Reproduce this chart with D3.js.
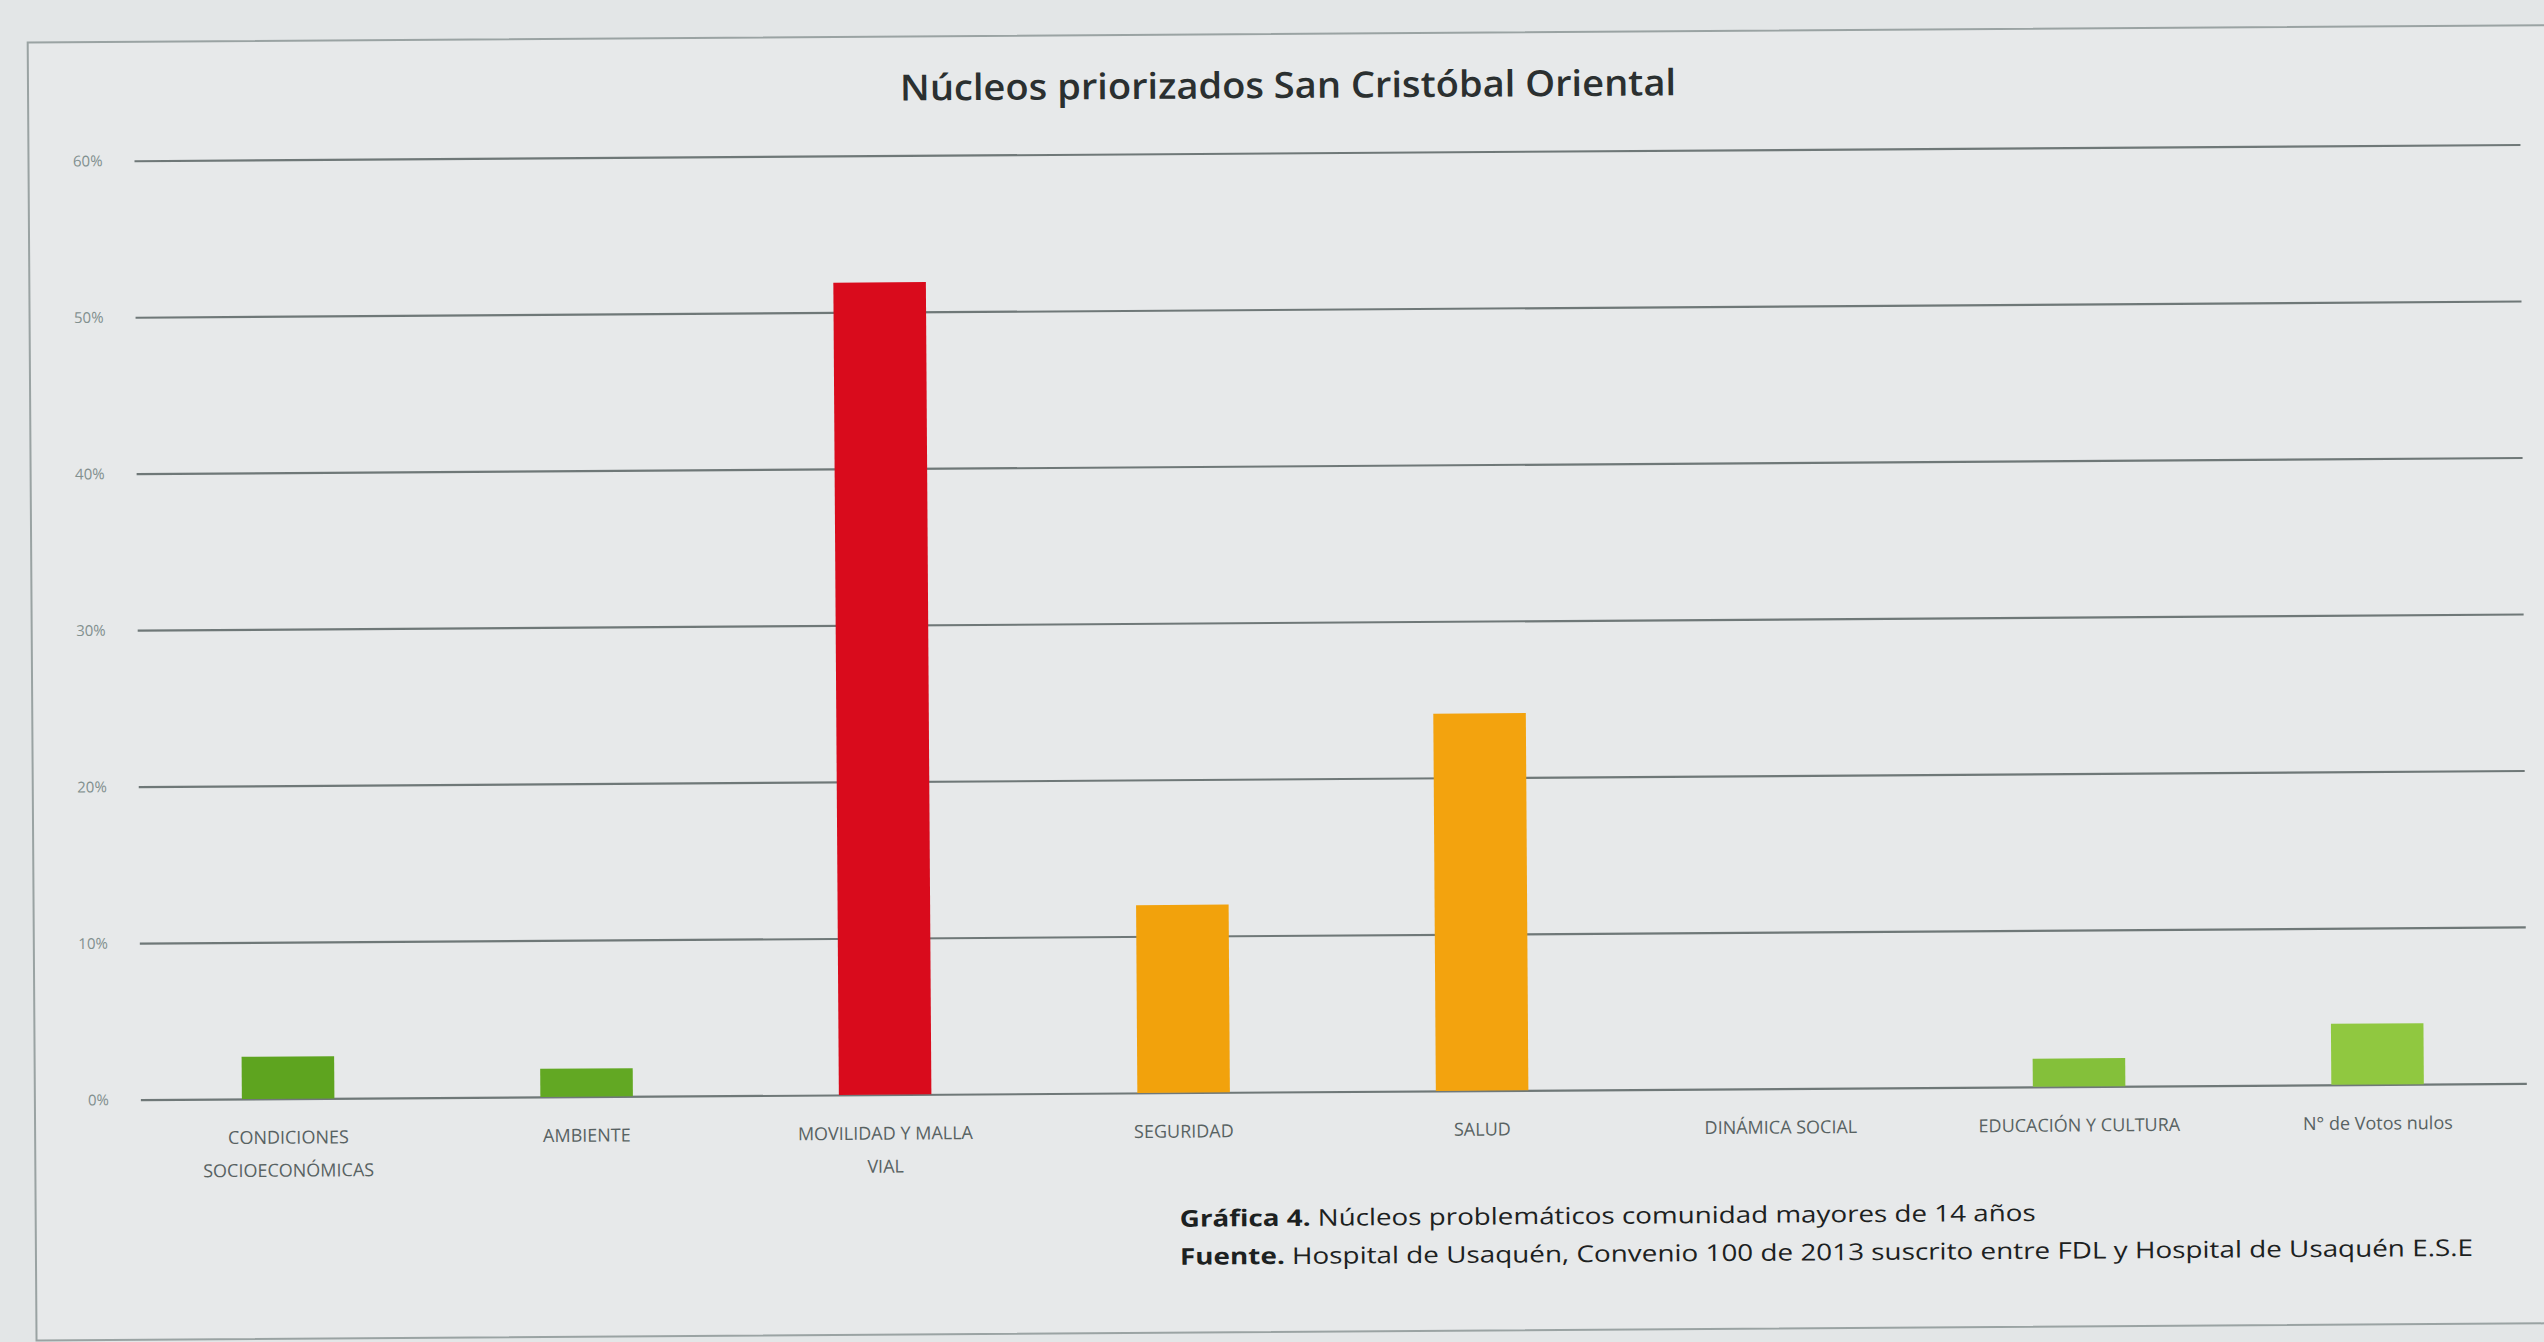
<!DOCTYPE html>
<html>
<head>
<meta charset="utf-8">
<script src="https://cdn.jsdelivr.net/npm/d3@7"></script>
<style>
  html, body { margin: 0; padding: 0; background: #e3e6e7; }
  svg { display: block; }
</style>
</head>
<body>
<div id="chart"></div>
<script>
// Data
const categories = [
    "CONDICIONES\nSOCIOECONÓMICAS",
    "AMBIENTE",
    "MOVILIDAD Y MALLA\nVIAL",
    "SEGURIDAD",
    "SALUD",
    "DINÁMICA SOCIAL",
    "EDUCACIÓN Y CULTURA",
    "N° de Votos nulos"
];
const values = [2.7, 1.8, 51.9, 12.0, 24.1, 0, 1.8, 3.9];
const barColors = ["#5ea41f", "#62a823", "#d90b1c", "#f2a20c", "#f3a30e", "#8cc43c", "#84c03a", "#90c840"];
const yTicks = [0, 10, 20, 30, 40, 50, 60];
const titleText = "Núcleos priorizados San Cristóbal Oriental";
const captionLines = [
    ["Gráfica 4.", " Núcleos problemáticos  comunidad mayores de 14 años"],
    ["Fuente.", " Hospital de Usaquén, Convenio 100 de 2013 suscrito entre FDL y Hospital de Usaquén E.S.E"]
];

function createBarChart() {
    const W = 2544, H = 1342;
    const left = 138, right = 2524, top = 153, bottom = 1092;

    const svg = d3.select("#chart")
        .append("svg")
        .attr("width", W)
        .attr("height", H);

    // the scanned page is a little tilted
    const g = svg.append("g")
        .attr("transform", `rotate(-0.39, ${W / 2}, ${H / 2})`);

    // frame of the figure
    g.append("rect")
        .attr("x", 32)
        .attr("y", 34)
        .attr("width", W + 40)
        .attr("height", 1298)
        .attr("fill", "#e7e9ea")
        .attr("stroke", "#9aa3a3")
        .attr("stroke-width", 2);

    const x = d3.scaleBand()
        .domain(categories)
        .range([left - 2, right])
        .paddingInner(0.69)
        .paddingOuter(0.345);

    const y = d3.scaleLinear()
        .domain([0, 60])
        .range([bottom, top]);

    // gridlines + y labels
    const yAxis = g.append("g")
        .attr("transform", `translate(${left},0)`)
        .call(d3.axisLeft(y)
            .tickValues(yTicks)
            .tickSize(-(right - left))
            .tickPadding(32)
            .tickFormat(d => d + "%"));
    yAxis.select(".domain").remove();
    yAxis.selectAll(".tick line")
        .attr("stroke", "#6f7878")
        .attr("stroke-width", 2.2);
    yAxis.selectAll(".tick text")
        .attr("fill", "#82908f")
        .style("font-family", "'Open Sans', sans-serif")
        .style("font-size", "15px");

    // bars
    g.selectAll(".bar")
        .data(values)
        .enter().append("rect")
        .attr("class", "bar")
        .attr("x", (d, i) => x(categories[i]))
        .attr("y", d => y(d))
        .attr("width", x.bandwidth())
        .attr("height", d => y(0) - y(d))
        .attr("fill", (d, i) => barColors[i]);

    // x labels
    const xAxis = g.append("g")
        .attr("transform", `translate(0,${bottom})`)
        .call(d3.axisBottom(x).tickSize(0).tickPadding(0));
    xAxis.select(".domain").remove();
    xAxis.selectAll(".tick text").each(function(d) {
        const t = d3.select(this).text("")
            .attr("y", 0)
            .attr("dy", null)
            .attr("fill", "#586262")
            .style("font-family", "'Open Sans', sans-serif")
            .style("font-size", "18px");
        d.split("\n").forEach((line, k) => {
            t.append("tspan")
                .attr("x", 0)
                .attr("y", 45 + k * 33)
                .text(line);
        });
    });

    // title
    g.append("text")
        .attr("x", 1292)
        .attr("y", 98)
        .attr("text-anchor", "middle")
        .attr("fill", "#2b3030")
        .style("font-family", "'Open Sans', sans-serif")
        .style("font-weight", 600)
        .style("font-size", "36px")
        .attr("textLength", 776)
        .attr("lengthAdjust", "spacingAndGlyphs")
        .text(titleText);

    // caption
    const capWidths = [856, 1293];
    captionLines.forEach((parts, i) => {
        const t = g.append("text")
            .attr("x", 1176)
            .attr("y", 1226 + i * 38)
            .attr("fill", "#1c2121")
            .style("font-family", "'Open Sans', sans-serif")
            .style("font-size", "23px")
            .attr("textLength", capWidths[i])
            .attr("lengthAdjust", "spacingAndGlyphs");
        t.append("tspan").style("font-weight", 700).text(parts[0]);
        t.append("tspan").text(parts[1]);
    });
}

createBarChart();
</script>
</body>
</html>
